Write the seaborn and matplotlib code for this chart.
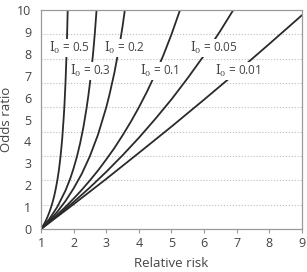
import pandas as pd
import seaborn as sns
import matplotlib.pyplot as plt

# relative risk / odds ratio points (baseline incidence I0)
rr_05 = [1.0, 1.05, 1.1, 1.15, 1.2, 1.25, 1.3, 1.35, 1.4, 1.45, 1.5, 1.55, 1.6, 1.65,
         1.7, 1.72, 1.75, 1.78, 1.8, 1.82]
or_05 = [1.0, 1.11, 1.22, 1.35, 1.50, 1.67, 1.86, 2.08, 2.33, 2.64, 3.00, 3.44, 4.00, 4.71,
         5.67, 6.14, 7.00, 8.09, 9.00, 10.11]

rr_03 = [1.0, 1.25, 1.5, 1.75, 1.9, 2.0, 2.1, 2.2, 2.3, 2.4, 2.45, 2.5, 2.55, 2.6, 2.65,
         2.7, 2.72]
or_03 = [1.0, 1.40, 1.91, 2.58, 3.09, 3.50, 3.97, 4.53, 5.19, 6.00, 6.47, 7.00, 7.60, 8.27,
         9.05, 9.95, 10.35]

rr_02 = [1.0, 1.25, 1.5, 1.75, 2.0, 2.25, 2.5, 2.75, 3.0, 3.1, 3.25, 3.4, 3.5, 3.6]
or_02 = [1.0, 1.33, 1.71, 2.15, 2.67, 3.27, 4.00, 4.89, 6.00, 6.53, 7.43, 8.50, 9.33, 10.29]

rr_01 = [1.0, 1.25, 1.5, 1.75, 2.0, 2.25, 2.5, 2.75, 3.0, 3.25, 3.5, 3.75, 4.0, 4.25,
         4.5, 4.75, 5.0, 5.3]
or_01 = [1.0, 1.29, 1.59, 1.91, 2.25, 2.61, 3.00, 3.41, 3.86, 4.33, 4.85, 5.40, 6.00, 6.65,
         7.36, 8.14, 9.00, 10.15]

rr_005 = [1.0, 1.5, 2.0, 2.5, 3.0, 3.5, 4.0, 4.5, 5.0, 5.5, 6.0, 6.5, 7.0]
or_005 = [1.0, 1.54, 2.11, 2.71, 3.35, 4.03, 4.75, 5.52, 6.33, 7.21, 8.14, 9.15, 10.23]

rr_001 = [1.0, 2.0, 3.0, 4.0, 5.0, 6.0, 7.0, 8.0, 9.0]
or_001 = [1.0, 2.02, 3.06, 4.13, 5.21, 6.32, 7.45, 8.61, 9.79]

curve_names = ['0.5', '0.3', '0.2', '0.1', '0.05', '0.01']
curve_rr = [rr_05, rr_03, rr_02, rr_01, rr_005, rr_001]
curve_or = [or_05, or_03, or_02, or_01, or_005, or_001]

# label anchor points (relative risk, odds ratio)
label_rr = [1.87, 2.52, 3.55, 4.65, 6.31, 7.03]
label_or = [8.45, 7.5, 8.45, 7.5, 8.45, 7.5]

x_ticks = [1, 2, 3, 4, 5, 6, 7, 8, 9]
y_tick_labels = ['0', '1', '2', '3', '4', '5', '6', '7', '8', '9', '10']

frames = []
for name, rr, orr in zip(curve_names, curve_rr, curve_or):
    frames.append(pd.DataFrame({'rr': rr, 'or': orr, 'curve': name}))
df = pd.concat(frames, ignore_index=True)

sns.set_theme(style='white')
plt.rcParams['font.family'] = ['Open Sans', 'DejaVu Sans']
plt.rcParams['mathtext.fontset'] = 'dejavuserif'

text_color = '#444444'
axis_color = '#9a9a9a'

fig = plt.figure(figsize=(3.07, 2.72), dpi=100)
ax = fig.add_axes([0.1336, 0.158, 0.85, 0.805])

sns.lineplot(data=df, x='rr', y='or', units='curve', estimator=None,
             color='#2a2a2a', linewidth=1.3, sort=False, ax=ax)

for name, x, y in zip(curve_names, label_rr, label_or):
    ax.text(x, y, r'$\mathrm{I}_0$ = ' + name, ha='center', va='center',
            fontsize=8.5, color=text_color, zorder=5,
            bbox=dict(facecolor='white', edgecolor='none', pad=0.8))

ax.set_xlim(1, 9)
ax.set_ylim(1, 10)

ax.set_xticks(x_ticks)
ax.set_xticklabels([str(t) for t in x_ticks])
ax.set_xticks(range(2, 9), minor=True)

# labels 0-10 spread evenly over the axis, gridlines at whole odds ratios
ax.set_yticks([1 + 0.9 * k for k in range(len(y_tick_labels))])
ax.set_yticklabels(y_tick_labels)
ax.set_yticks(range(2, 10), minor=True)

ax.grid(False)
ax.grid(which='minor', axis='both', linestyle=':', color='#bdbdbd', linewidth=0.8)

ax.tick_params(axis='x', which='major', length=3, width=0.8, color=axis_color,
               labelsize=9, labelcolor=text_color, pad=3, bottom=True)
ax.tick_params(axis='y', which='major', length=0, labelsize=9,
               labelcolor=text_color, pad=7)
ax.tick_params(which='minor', length=0)

for spine in ax.spines.values():
    spine.set_color(axis_color)
    spine.set_linewidth(0.9)

ax.set_xlabel('Relative risk', fontsize=9.5, color=text_color, labelpad=5)
ax.set_ylabel('Odds ratio', fontsize=9.5, color=text_color)
ax.yaxis.set_label_coords(-0.106, 0.5)

fig.savefig('out.png', dpi=100)
